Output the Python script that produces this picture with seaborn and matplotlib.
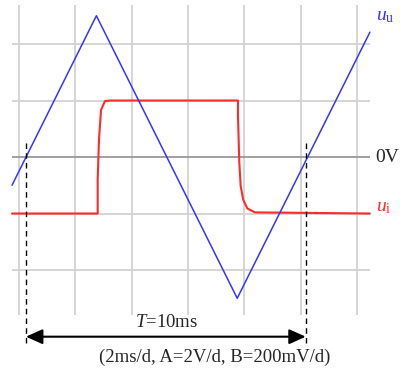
import numpy as np
import pandas as pd
import matplotlib
matplotlib.use("Agg")
import matplotlib.pyplot as plt
import seaborn as sns

sns.set_style("white")
plt.rcParams['font.family'] = ['Liberation Serif', 'DejaVu Serif']
plt.rcParams['mathtext.fontset'] = 'custom'
plt.rcParams['mathtext.rm'] = 'Liberation Serif'
plt.rcParams['mathtext.it'] = 'Liberation Serif:italic'

# Data (x and y in screen divisions)
uu_x = [-0.124, 1.374, 3.874, 6.23]
uu_y = [-0.50, 2.50, -2.50, 2.21]

ui_x = [-0.124, 1.397, 1.397, 1.42, 1.456, 1.527, 1.633, 3.888, 3.888, 3.911, 3.936, 3.982, 4.053, 4.19, 6.23]
ui_y = [-1.0, -1.0, -0.40, 0.30, 0.83, 0.99, 1.0, 1.0, 0.71, -0.10, -0.52, -0.76, -0.91, -0.98, -1.0]

period_marks = [0.124, 5.09]
period_label = "$T$=10ms"
scale_label = "(2ms/d, A=2V/d, B=200mV/d)"

fig = plt.figure(figsize=(4.03, 3.72), dpi=100)
ax = fig.add_axes([0, 0, 1, 1])

# grid
gx = np.arange(0, 7)
gy = [-2, -1, 1, 2]
ax.vlines(gx, -2.8, 2.69, color='#d2d2d2', lw=1.3, zorder=1)
ax.hlines(gy, -0.124, 6.23, color='#d2d2d2', lw=1.3, zorder=1)
ax.hlines([0], -0.124, 6.23, color='#999999', lw=1.3, zorder=1)

df_u = pd.DataFrame({'x': uu_x, 'y': uu_y})
df_i = pd.DataFrame({'x': ui_x, 'y': ui_y})
sns.lineplot(data=df_u, x='x', y='y', sort=False, estimator=None, color='#3535ff', lw=1.1, ax=ax, zorder=3)
sns.lineplot(data=df_i, x='x', y='y', sort=False, estimator=None, color='#ff2a2a', lw=1.5, ax=ax, zorder=2)
ax.set_xlim(-0.337, 6.817)
ax.set_ylim(-3.805, 2.779)
ax.axis('off')

# dashed period markers
for xm in period_marks:
    ax.plot([xm, xm], [0.25, -3.29], color='black', lw=1.0, ls=(0, (4, 3)), zorder=4)

ax.annotate('', xy=(period_marks[1], -3.18), xytext=(period_marks[0], -3.18),
            arrowprops=dict(arrowstyle='<|-|>,head_length=1.0,head_width=0.45', color='black', lw=1.5,
                            shrinkA=0, shrinkB=0), zorder=5)
ax.text(2.61, -2.93, period_label, fontsize=13.5, ha='center', va='center')
ax.text(3.47, -3.55, scale_label, fontsize=13.5, ha='center', va='center')

ax.text(6.33, 0.0, '0V', fontsize=14, ha='left', va='center')
ax.text(6.33, 2.48, r'$u_{\mathrm{u}}$', fontsize=14, ha='left', va='center', color='#3535ff')
ax.text(6.33, -0.9, r'$u_{\mathrm{i}}$', fontsize=14, ha='left', va='center', color='#ff2a2a')

fig.savefig('out.png', dpi=100)
